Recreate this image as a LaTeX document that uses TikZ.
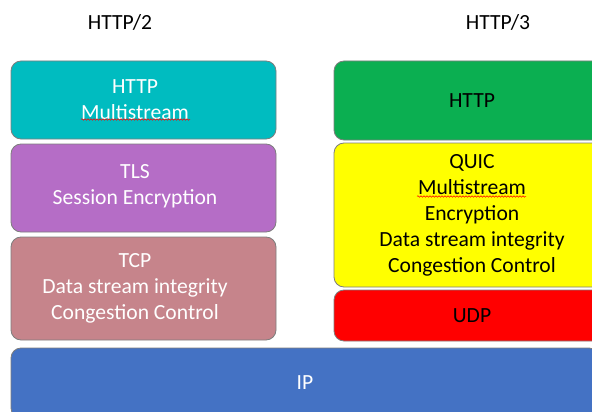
\documentclass[tikz,border=0pt]{standalone}
\usepackage{fontspec}
\setmainfont{Carlito}
\usetikzlibrary{decorations.pathmorphing}
\definecolor{cTeal}{RGB}{0,188,192}
\definecolor{cPurple}{RGB}{181,109,198}
\definecolor{cRose}{RGB}{198,132,139}
\definecolor{cGreen}{RGB}{11,175,81}
\definecolor{cYellow}{RGB}{255,255,0}
\definecolor{cRed}{RGB}{255,0,0}
\definecolor{cBlue}{RGB}{68,114,196}
\definecolor{cBorder}{RGB}{125,125,125}
\begin{document}
\begin{tikzpicture}[x=1pt,y=-1pt,
  layer/.style={draw=cBorder, line width=0.8pt, rounded corners=10pt, align=center,
    inner sep=0pt, font=\fontsize{21.6}{26}\selectfont},
  ltext/.style={align=center, inner sep=0pt, text=white, font=\fontsize{21.6}{26}\selectfont},
  title/.style={font=\fontsize{21.6}{26}\selectfont, text=black},
  spell/.style={draw=red, line width=0.5pt, decorate,
    decoration={snake, amplitude=0.8pt, segment length=3pt}}]
\useasboundingbox (0,0) rectangle (592,412);
\clip (0,0) rectangle (592,412);

\node[title] (t2) at (120,22) {HTTP/2};
\node[title] (t3) at (498,22) {HTTP/3};

\node[layer, fill=cTeal, minimum width=265pt, minimum height=78pt] (http2) at (143.5,100) {};
\node[ltext] (http2t) at ([xshift=-8.5pt]http2.center) {HTTP\\Multistream};
\node[layer, fill=cPurple, minimum width=265pt, minimum height=88pt] (tls) at (143.5,188) {};
\node[ltext] (tlst) at ([xshift=-8.5pt,yshift=2pt]tls.center) {TLS\\Session Encryption};
\node[layer, fill=cRose, minimum width=265pt, minimum height=103pt] (tcp) at (143.5,288.5) {};
\node[ltext] (tcpt) at ([xshift=-8.5pt]tcp.center) {TCP\\Data stream integrity\\Congestion Control};
\node[layer, fill=cBlue, text=white, minimum width=588pt, minimum height=70pt] (ip) at (305,383) {IP};

\node[layer, fill=cGreen, text=black, minimum width=276pt, minimum height=79pt] (http3) at (472,100.5) {HTTP};
\node[layer, fill=cYellow, text=black, minimum width=276pt, minimum height=144pt] (quic) at (472,215) {QUIC\\Multistream\\Encryption\\Data stream integrity\\Congestion Control};
\node[layer, fill=cRed, text=black, minimum width=276pt, minimum height=51pt] (udp) at (472,315.5) {UDP};

\coordinate (s1a) at (81,119.5);
\coordinate (s1b) at (190,119.5);
\coordinate (s2a) at (417,196.5);
\coordinate (s2b) at (526,196.5);
\draw[spell] (s1a) -- (s1b);
\draw[spell] (s2a) -- (s2b);
\end{tikzpicture}
\end{document}
